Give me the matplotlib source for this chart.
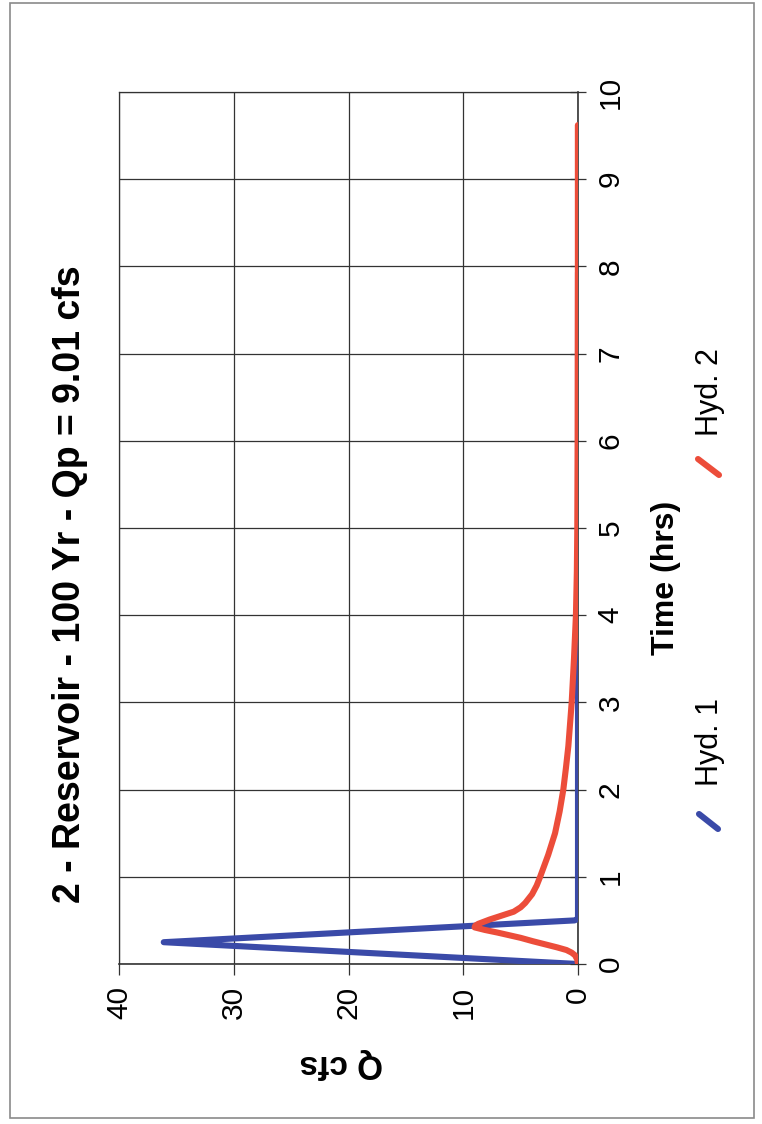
import matplotlib
matplotlib.use("Agg")
from matplotlib import pyplot as plt
from matplotlib.patches import Rectangle
from matplotlib.lines import Line2D

plt.rcParams['font.family'] = ['Liberation Sans', 'DejaVu Sans']

# Hyd. 1 - inflow hydrograph (time hrs, Q cfs)
hyd1_time = [0.0, 0.25, 0.50, 0.52, 7.93]
hyd1_q = [0.0, 36.1, 0.3, 0.0, 0.0]

# Hyd. 2 - reservoir outflow
hyd2_time = [0.0, 0.05, 0.10, 0.13, 0.16, 0.19, 0.22, 0.26, 0.30, 0.33, 0.36,
             0.39, 0.42, 0.44, 0.46, 0.48, 0.51, 0.54, 0.57, 0.60, 0.65,
             0.70, 0.75, 0.80, 0.90, 1.0, 1.25, 1.5, 1.75, 2.0, 2.25, 2.5,
             3.0, 3.5, 4.0, 4.5, 5.0, 6.0, 7.0, 8.0, 9.0, 9.62]
hyd2_q = [0.0, 0.06, 0.26, 0.55, 1.0, 1.8, 2.7, 3.9, 5.0, 6.0, 7.0,
          8.1, 9.01, 8.95, 8.7, 8.3, 7.7, 7.0, 6.3, 5.6, 5.0,
          4.6, 4.3, 4.0, 3.6, 3.3, 2.6, 2.0, 1.6, 1.28, 1.05, 0.84,
          0.55, 0.35, 0.18, 0.10, 0.06, 0.03, 0.02, 0.01, 0.01, 0.01]

q_ticks = [0, 10, 20, 30, 40]
t_ticks = list(range(0, 11))

title = "2 - Reservoir - 100 Yr - Qp = 9.01 cfs"

W, H = 762, 1124
fig = plt.figure(figsize=(W / 100, H / 100), dpi=100)
fig.patch.set_facecolor('white')

# page border
fig.add_artist(Rectangle((10 / W, 1 - 1118 / H), 744 / W, 1115 / H,
                         transform=fig.transFigure, fill=False,
                         edgecolor='#8a8a8a', linewidth=1.2))

ax = fig.add_axes([119 / W, 1 - 964 / H, (578 - 119) / W, (964 - 92) / H])

blue = '#3a4aa8'
red = '#ec4d3a'
ax.plot(hyd1_q, hyd1_time, color=blue, lw=4.4, solid_joinstyle='round',
        solid_capstyle='round', zorder=3)
ax.plot(hyd2_q, hyd2_time, color=red, lw=4.4, solid_joinstyle='round',
        solid_capstyle='round', zorder=4)

ax.set_xlim(40, 0)
ax.set_ylim(0, 10)
ax.set_xticks(q_ticks)
ax.set_yticks(t_ticks)
ax.grid(True, color='#333333', lw=0.9)
ax.set_axisbelow(True)

for s in ax.spines.values():
    s.set_color('#333333')
    s.set_linewidth(0.9)
ax.spines['right'].set_linewidth(1.2)
ax.spines['bottom'].set_linewidth(1.2)

ax.yaxis.tick_right()
ax.tick_params(axis='x', direction='out', length=8, width=0.9,
               color='#333333', labelsize=21.5, pad=8, labelrotation=90)
ax.tick_params(axis='y', direction='inout', length=11, width=0.9,
               color='#333333', labelsize=21.5, pad=8, labelrotation=90)
for lab in ax.get_yticklabels():
    lab.set_va('center')
    lab.set_ha('left')

# rotated labels
fig.text(70 / W, 1 - 584 / H, title, rotation=90, fontsize=27,
         fontweight='bold', ha='center', va='center')
fig.text(341 / W, 1 - 1063 / H, "Q cfs", rotation=180, fontsize=24,
         fontweight='bold', ha='center', va='center')
fig.text(666 / W, 1 - 578 / H, "Time (hrs)", rotation=90, fontsize=23,
         fontweight='bold', ha='center', va='center')

# legend
fig.text(710 / W, 1 - 742 / H, "Hyd. 1", rotation=90, fontsize=22,
         ha='center', va='center')
fig.text(710 / W, 1 - 392 / H, "Hyd. 2", rotation=90, fontsize=22,
         ha='center', va='center')
fig.add_artist(Line2D([699 / W, 718 / W], [1 - 814 / H, 1 - 829 / H],
                      transform=fig.transFigure, color=blue, lw=4.4,
                      solid_capstyle='round'))
fig.add_artist(Line2D([698 / W, 719 / W], [1 - 459 / H, 1 - 475 / H],
                      transform=fig.transFigure, color=red, lw=4.4,
                      solid_capstyle='round'))

fig.savefig('out.png', dpi=100)
